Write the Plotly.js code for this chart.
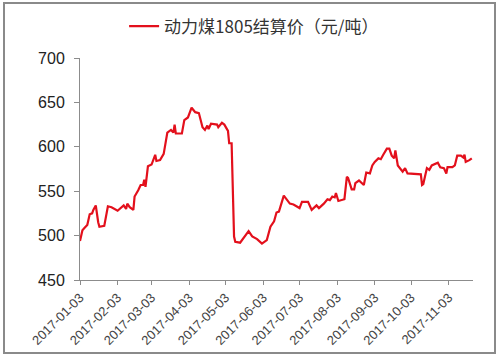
<!DOCTYPE html>
<html>
<head>
<meta charset="utf-8">
<script src="https://cdn.plot.ly/plotly-3.0.1.min.js"></script>
<style>
html,body{margin:0;padding:0;background:#fff;}
#wrap{position:relative;width:497px;height:355px;}
#chart{position:absolute;left:0;top:0;width:497px;height:355px;}
#frame{position:absolute;left:3px;top:2px;width:489px;height:348px;border:2px solid #8a8a8a;pointer-events:none;}
</style>
</head>
<body>
<div id="wrap"><div id="chart"></div><div id="frame"></div></div>
<script>
const seriesName = "动力煤1805结算价（元/吨）";
const dates = [
"2017-01-03","2017-01-05","2017-01-07","2017-01-09","2017-01-11","2017-01-13","2017-01-14","2017-01-16","2017-01-18","2017-01-19",
"2017-01-23","2017-01-26","2017-01-29","2017-02-03","2017-02-08","2017-02-10","2017-02-11","2017-02-13","2017-02-16","2017-02-17",
"2017-02-20","2017-02-22","2017-02-24","2017-02-25","2017-02-26","2017-02-28","2017-03-03","2017-03-06","2017-03-07","2017-03-10",
"2017-03-13","2017-03-16","2017-03-19","2017-03-21","2017-03-22","2017-03-23","2017-03-28","2017-03-30","2017-04-02","2017-04-05",
"2017-04-08","2017-04-11","2017-04-14","2017-04-16","2017-04-18","2017-04-19","2017-04-21","2017-04-26","2017-04-27","2017-04-30",
"2017-05-02","2017-05-05","2017-05-06","2017-05-08","2017-05-10","2017-05-11","2017-05-15","2017-05-17","2017-05-19","2017-05-22",
"2017-05-25","2017-05-29","2017-06-02","2017-06-06","2017-06-09","2017-06-12","2017-06-14","2017-06-16","2017-06-20","2017-06-23",
"2017-06-25","2017-06-28","2017-07-01","2017-07-03","2017-07-05","2017-07-10","2017-07-13","2017-07-15","2017-07-17","2017-07-19",
"2017-07-23","2017-07-26","2017-07-28","2017-07-30","2017-08-01","2017-08-02","2017-08-04","2017-08-09","2017-08-11","2017-08-12",
"2017-08-15","2017-08-17","2017-08-18","2017-08-21","2017-08-25","2017-08-27","2017-08-30","2017-09-01","2017-09-03","2017-09-06",
"2017-09-08","2017-09-10","2017-09-13","2017-09-15","2017-09-17","2017-09-19","2017-09-20","2017-09-22","2017-09-26","2017-09-28",
"2017-09-30","2017-10-11","2017-10-12","2017-10-13","2017-10-16","2017-10-18","2017-10-20","2017-10-25","2017-10-27","2017-10-30",
"2017-11-01","2017-11-02","2017-11-06","2017-11-08","2017-11-10","2017-11-13","2017-11-15","2017-11-16","2017-11-17","2017-11-20",
"2017-11-22"
];
const prices = [
494,506,509,512,524,525,529,534,515,510,
511,533,532,528,534,530,536,532,529,544,
551,557,557,563,555,578,580,591,584,585,
592,616,619,616,625,615,615,630,633,644,
639,638,622,619,624,620,626,625,622,627,
625,618,604,604,499,493,492,496,499,505,
499,496,491,495,510,516,526,527,545,540,
536,535,532,531,538,538,529,532,534,531,
536,541,540,544,543,548,539,541,566,565,
552,552,559,562,557,571,570,579,583,587,
586,591,598,598,590,587,596,579,572,576,
570,569,557,558,576,574,579,582,577,576,
570,577,577,579,590,590,588,591,583,585,
587
];
const tickDates = ["2017-01-03","2017-02-03","2017-03-03","2017-04-03","2017-05-03","2017-06-03","2017-07-03","2017-08-03","2017-09-03","2017-10-03","2017-11-03"];
const yTicks = [450,500,550,600,650,700];

const trace = {
  x: dates, y: prices, type: "scatter", mode: "lines", name: seriesName,
  line: {color: "#e3101c", width: 2.2}
};
const layout = {
  width: 497, height: 355,
  margin: {l: 80, r: 24, t: 57.5, b: 75, autoexpand: false},
  paper_bgcolor: "#fff", plot_bgcolor: "#fff",
  showlegend: true,
  legend: {orientation: "h", x: 0.443, xanchor: "center", y: 1.142, yanchor: "middle",
           font: {family: "Noto Sans CJK SC", size: 17, color: "#333"}},
  xaxis: {
    type: "date", range: ["2017-01-03", "2017-11-23"],
    tickvals: tickDates, ticktext: tickDates, tickangle: -45,
    showgrid: false, zeroline: false, showline: true, linecolor: "#8c8c8c", linewidth: 1,
    ticks: "outside", ticklen: 4, tickcolor: "#8c8c8c",
    tickfont: {family: "Liberation Sans, Arial", size: 13, color: "#444"}
  },
  yaxis: {
    range: [450, 700], tickvals: yTicks,
    showgrid: false, zeroline: false, showline: true, linecolor: "#8c8c8c", linewidth: 1,
    ticks: "outside", ticklen: 5, tickcolor: "#8c8c8c", ticklabelstandoff: 6,
    tickfont: {family: "Liberation Sans, Arial", size: 16, color: "#222"}
  }
};
Plotly.newPlot("chart", [trace], layout, {displayModeBar: false, staticPlot: true});
</script>
</body>
</html>
